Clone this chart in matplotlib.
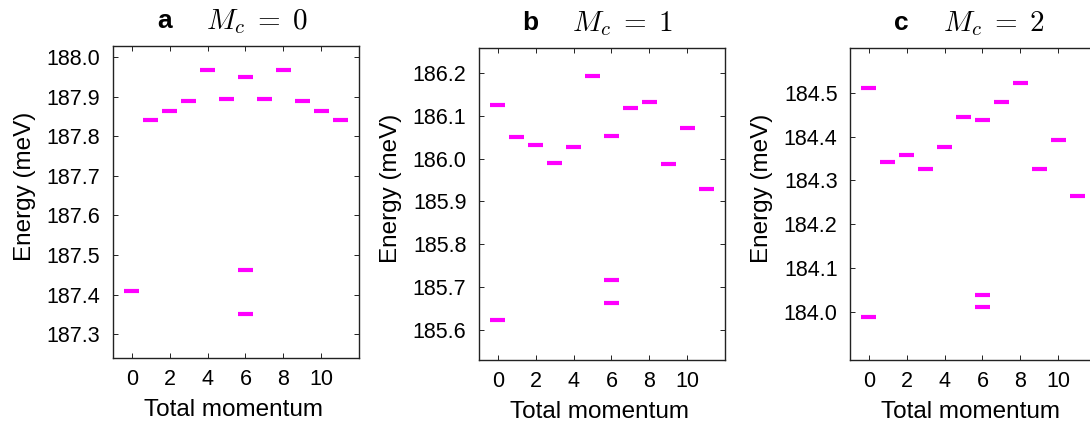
"""
Low-lying energy spectra versus total momentum for the three M_c sectors.
"""

import matplotlib
matplotlib.use("Agg")
import matplotlib.pyplot as plt

plt.rcParams["font.family"] = ["Liberation Sans", "DejaVu Sans"]
plt.rcParams["mathtext.fontset"] = "cm"

# ======================  Data  ======================
x_ticks = [0, 2, 4, 6, 8, 10]

# --- Panel a, M_c = 0
k_a = [0, 1, 2, 3, 4, 5, 6, 6, 6, 7, 8, 9, 10, 11]
e_a = [187.409, 187.842, 187.863, 187.890, 187.968, 187.895, 187.950,
       187.463, 187.352, 187.895, 187.968, 187.890, 187.863, 187.842]
yticks_a = [187.3, 187.4, 187.5, 187.6, 187.7, 187.8, 187.9, 188.0]

# --- Panel b, M_c = 1
k_b = [0, 0, 1, 2, 3, 4, 5, 6, 6, 6, 7, 8, 9, 10, 11]
e_b = [186.124, 185.624, 186.050, 186.031, 185.989, 186.027, 186.193,
       186.052, 185.716, 185.663, 186.117, 186.131, 185.988, 186.071, 185.930]
yticks_b = [185.6, 185.7, 185.8, 185.9, 186.0, 186.1, 186.2]

# --- Panel c, M_c = 2
k_c = [0, 0, 1, 2, 3, 4, 5, 6, 6, 6, 7, 8, 9, 10, 11]
e_c = [184.511, 183.989, 184.341, 184.357, 184.326, 184.376, 184.445,
       184.438, 184.039, 184.011, 184.478, 184.523, 184.327, 184.393, 184.265]
yticks_c = [184.0, 184.1, 184.2, 184.3, 184.4, 184.5]

panels = [
    ("a", r"$M_c\;=\;0$", k_a, e_a, yticks_a, (187.24, 188.028), 113, 46),
    ("b", r"$M_c\;=\;1$", k_b, e_b, yticks_b, (185.53, 186.258), 479, 48),
    ("c", r"$M_c\;=\;2$", k_c, e_c, yticks_c, (183.89, 184.602), 850, 48),
]

# ======================  Figure  ======================
W, H = 1090, 425
fig = plt.figure(figsize=(W / 100, H / 100), dpi=100)
ax_w, ax_h = 246, 312

for letter, math, ks, es, yticks, ylim, left, top in panels:
    ax = fig.add_axes([left / W, (H - top - ax_h) / H, ax_w / W, ax_h / H])

    # one short horizontal dash per eigenvalue
    ax.hlines(es, [k - 0.4 for k in ks], [k + 0.4 for k in ks],
              colors="#ff00ff", linewidth=3.0)

    ax.set_xlim(-1, 12)
    ax.set_ylim(*ylim)
    ax.set_xticks(x_ticks)
    ax.set_yticks(yticks)
    ax.set_yticklabels([f"{v:.1f}" for v in yticks])
    ax.tick_params(direction="in", top=True, right=True, length=3.5,
                   width=0.7, labelsize=15.5, colors="#222222",
                   labelcolor="black")
    ax.tick_params(axis="x", pad=8)
    ax.tick_params(axis="y", pad=9)
    for s in ax.spines.values():
        s.set_linewidth(1.0)
        s.set_color("#222222")

    ax.set_xlabel("Total momentum", fontsize=17.5)
    ax.set_ylabel("Energy (meV)", fontsize=17.5)
    ax.xaxis.set_label_coords(0.49, -0.13)
    ax.yaxis.set_label_coords(-0.315, 0.55)

    # panel letter and sector label above the frame
    ax.text(0.21, 1.08, letter, transform=ax.transAxes, fontsize=19,
            fontweight="bold", ha="center", va="center")
    ax.text(0.38, 1.08, math, transform=ax.transAxes, fontsize=21,
            ha="left", va="center")

fig.savefig("out.png", dpi=100)
